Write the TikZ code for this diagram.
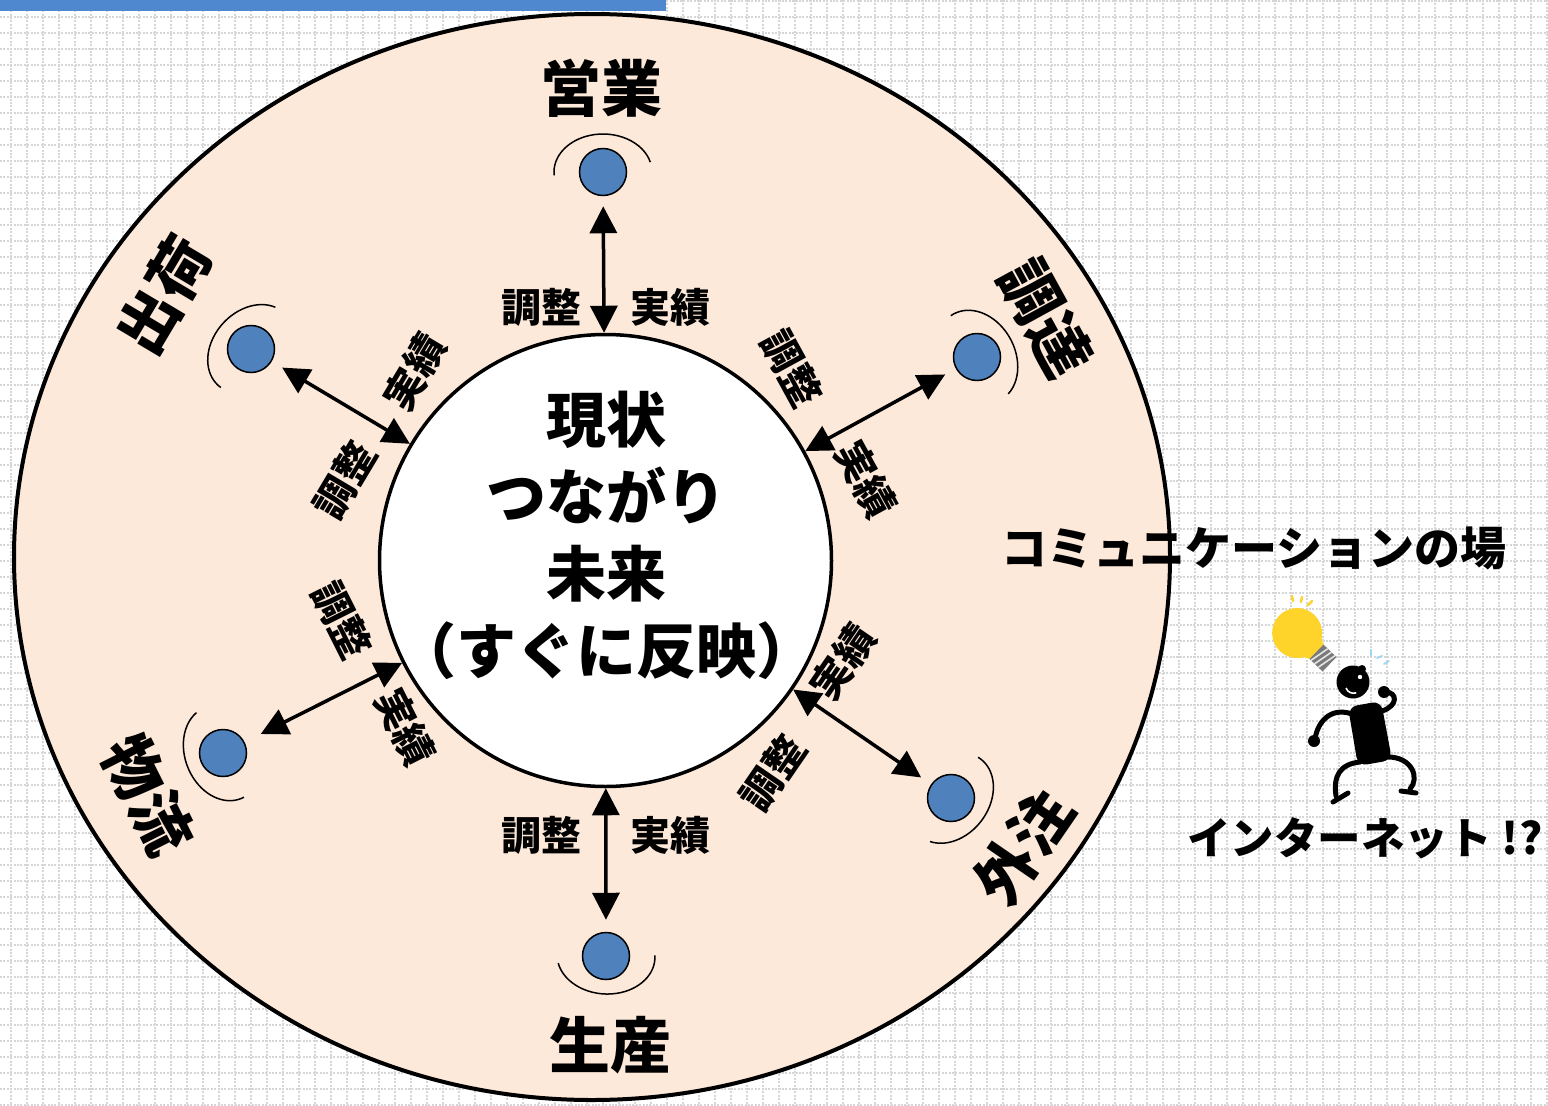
\documentclass[tikz,border=0pt]{standalone}
\usepackage{fontspec}
\setmainfont{Noto Sans CJK JP}
\usetikzlibrary{arrows.meta,calc}
\definecolor{ringfill}{HTML}{FDE9D9}
\definecolor{dotblue}{HTML}{4F81BD}
\definecolor{barblue}{HTML}{5088CF}
\definecolor{griddot}{HTML}{D6D6D6}
\definecolor{bulbyellow}{HTML}{FFD42A}
\definecolor{capgray}{HTML}{7A7A7A}
\definecolor{sparkle}{HTML}{9ED8F2}
\begin{document}
\begin{tikzpicture}[x=1pt,y=1pt,
  spoke/.style={circle,draw=black,line width=1.5pt,fill=dotblue,minimum size=47pt,inner sep=0pt},
  halo/.style={line width=1.5pt},
  arr/.style={line width=3.5pt,{Triangle[length=27pt,width=27pt]}-{Triangle[length=27pt,width=27pt]}},
  dept/.style={font=\fontsize{61}{61}\selectfont\bfseries,inner sep=0pt},
  tag/.style={font=\fontsize{40}{40}\selectfont\bfseries,inner sep=0pt},
  side/.style={font=\fontsize{#1}{#1}\selectfont\bfseries,inner sep=0pt},
  limb/.style={line width=5pt,line cap=round},
]
\useasboundingbox (0,0) rectangle (1548,-1106);
\fill[white] (0,0) rectangle (1548,-1106);

% dotted background grid
\foreach \k in {0,...,96}
  \draw[griddot,line width=2pt,dash pattern=on 2pt off 1.4pt] (11+16*\k,0) -- (11+16*\k,-1106);
\foreach \k in {0,...,69}
  \draw[griddot,line width=2pt,dash pattern=on 2pt off 1.4pt] (0,-0.5-16*\k) -- (1548,-0.5-16*\k);

% title bar
\fill[barblue] (0,0) rectangle (666,-10.5);

% outer ring
\draw[line width=4pt,fill=ringfill] (592,-557) ellipse [x radius=578,y radius=543];

% hub
\node[circle,draw=black,line width=3.5pt,fill=white,minimum size=452pt,inner sep=0pt] (hub) at (605.5,-560.5) {};
\node[font=\fontsize{60}{77}\selectfont\bfseries,align=center,inner sep=0pt] (hubtext) at (606,-535)
  {現状\\つながり\\未来\\（すぐに反映）};

% departments
\node[spoke] (eigyo) at (603,-172) {};
\node[spoke] (shukka) at (251,-349) {};
\node[spoke] (chotatsu) at (977,-357) {};
\node[spoke] (butsuryu) at (223,-753) {};
\node[spoke] (gaichu) at (951,-798) {};
\node[spoke] (seisan) at (606,-956) {};

\foreach \n/\a in {eigyo/0,shukka/48,chotatsu/-61.5,gaichu/-127.5,seisan/176.75,butsuryu/111.5}
  \draw[halo,shift={(\n.center)},rotate=\a] (15:49 and 38) arc[start angle=15,end angle=185,x radius=49,y radius=38];

% links
\draw[arr,shorten >=10pt] (hub) -- (eigyo);
\draw[arr,shorten >=12pt] (hub) -- (shukka);
\draw[arr,shorten >=12pt] (hub) -- (chotatsu);
\draw[arr,shorten >=12pt] (hub) -- (gaichu);
\draw[arr,shorten >=12pt] (hub) -- (seisan);
\draw[arr,shorten >=18pt] (hub) -- (butsuryu);

% link labels
\node[tag] (e1) at (541,-307) {調整};
\node[tag] (e2) at (670,-307) {実績};
\node[tag] (s1) at (541,-835) {調整};
\node[tag] (s2) at (670,-835) {実績};
\node[tag,rotate=59.2] (k1) at (345,-480) {調整};
\node[tag,rotate=59.2] (k2) at (415,-372) {実績};
\node[tag,rotate=-61.3] (c1) at (792,-368) {調整};
\node[tag,rotate=-61.3] (c2) at (866,-479) {実績};
\node[tag,rotate=55.5] (g1) at (773,-773) {調整};
\node[tag,rotate=55.5] (g2) at (843,-662) {実績};
\node[tag,rotate=-63.3] (b1) at (342,-620) {調整};
\node[tag,rotate=-63.3] (b2) at (405,-727) {実績};

% department names
\node[dept] (eigyoname) at (601,-88) {営業};
\node[dept,rotate=59.2] (shukkaname) at (164,-295) {出荷};
\node[dept,rotate=-61.3] (chotatsuname) at (1046,-318) {調達};
\node[dept,rotate=55.5] (gaichuname) at (1023,-847) {外注};
\node[dept] (seisanname) at (610,-1045) {生産};
\node[dept,rotate=-63.3] (butsuryuname) at (148,-795) {物流};

% side captions
\node[side=46] (place) at (1254,-548) {コミュニケーションの場};
\node[side=43.5] (net) at (1365,-838) {インターネット !?};

% light bulb
\begin{scope}[shift={(1323,-658)},rotate=-44]
  \fill[bulbyellow] (-36,0) circle (25);
  \fill[bulbyellow] (-24,-18) -- (-9,-10) -- (-9,10) -- (-24,18) -- cycle;
  \fill[capgray] (-9,-10) rectangle (9,10);
  \foreach \t in {-5,0,5}
    \draw[white!80!gray,line width=1.6pt] (\t-2,-10) -- (\t+2,10);
\end{scope}
\draw[bulbyellow,line width=2.5pt,line cap=round] (1292,-596) -- (1293,-601);
\draw[bulbyellow,line width=2.5pt,line cap=round] (1302,-597) -- (1301,-602);
\draw[bulbyellow,line width=2.5pt,line cap=round] (1312,-601) -- (1308,-605);
\draw[sparkle,line width=1.8pt,line cap=round] (1371,-650) -- (1371,-656);
\draw[sparkle,line width=1.8pt,line cap=round] (1377,-658) -- (1382,-656);
\draw[sparkle,line width=1.8pt,line cap=round] (1384,-664) -- (1389,-661);

% figure
\fill (1353,-682) circle (16.5);
\fill (1362,-669) circle (4);
\fill[white] (1360,-677) circle (2.2);
\draw[white,line width=1.6pt] (1346,-688) arc[start angle=200,end angle=290,radius=8];
\fill[rounded corners=9pt] (1348,-707) -- (1381,-701) -- (1392,-760) -- (1358,-766) -- cycle;
\draw[limb] (1352,-714) .. controls (1332,-707) and (1318,-720) .. (1315,-739);
\fill (1314,-741) circle (6);
\draw[limb] (1382,-711) .. controls (1398,-706) and (1398,-692) .. (1385,-692);
\fill (1384,-692) circle (6);
\draw[limb] (1360,-762) .. controls (1340,-764) and (1333,-776) .. (1336,-796);
\draw[limb] (1333,-802) -- (1348,-793);
\draw[limb] (1388,-757) .. controls (1412,-757) and (1420,-778) .. (1410,-789);
\draw[limb] (1401,-791) -- (1416,-793);
\end{tikzpicture}
\end{document}
